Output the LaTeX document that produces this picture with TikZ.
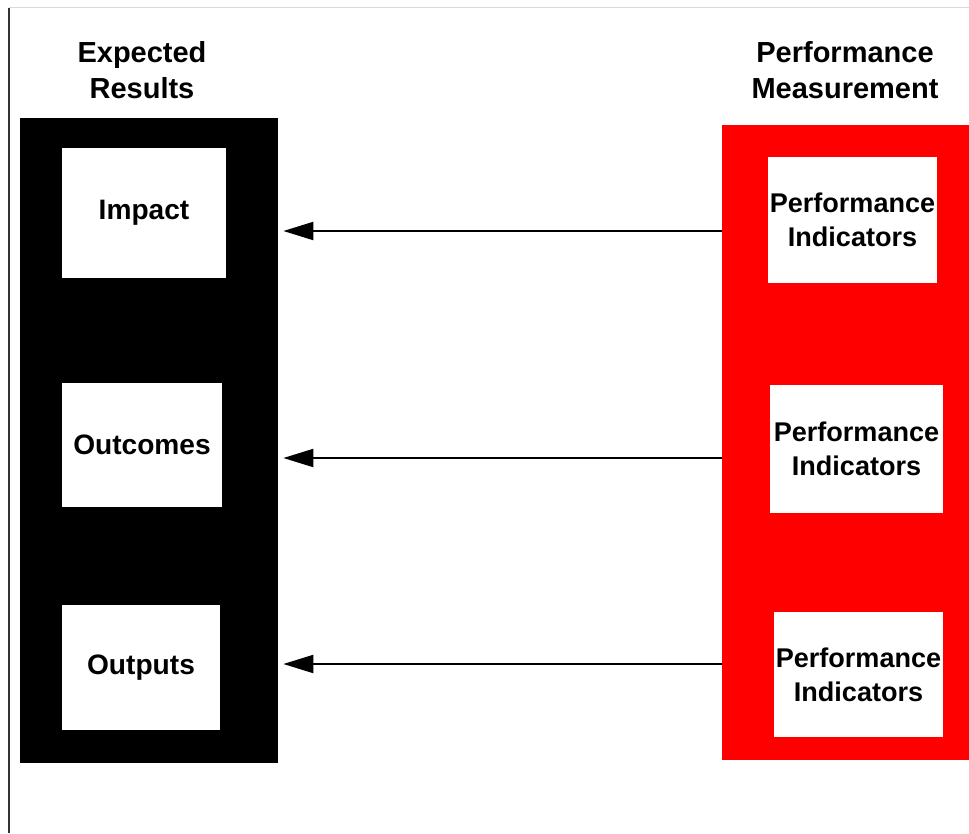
\documentclass[tikz,border=0pt]{standalone}
\usepackage{fontspec}
\setmainfont{Liberation Sans}
\usetikzlibrary{arrows.meta}
\tikzset{
	panel/.style={draw=none, inner sep=0pt},
	level/.style={fill=white, inner sep=0pt, align=center, font=\fontsize{16}{20.5}\selectfont\bfseries},
	indicator/.style={level, font=\fontsize{15.4}{19.5}\selectfont\bfseries},
	title/.style={align=center, font=\fontsize{16.5}{20.5}\selectfont\bfseries},
	link/.style={line width=0.04cm, -{Triangle[length=6mm, width=3.6mm]}, shorten >=0.1cm}
}

\begin{document}
\begin{tikzpicture}
			%%%%% START %%%%%
			\useasboundingbox (0, 0) rectangle (19.38, -16.66);
			
			\draw[color=black!15, line width=0.02cm] (0.18, -0.16) -- (19.38, -0.16);
			\draw[color=black!80, line width=0.04cm] (0.18, -0.16) -- (0.18, -16.66);
			
			\node[title] (exp) at (2.84, -1.4) {Expected\\Results};
			\node[title] (meas) at (16.9, -1.4) {Performance\\Measurement};
			
			\node[panel, fill=black, minimum width=5.16cm, minimum height=12.9cm] (results) at (2.98, -8.81) {};
			\node[panel, fill=red, minimum width=4.94cm, minimum height=12.7cm] (measure) at (16.91, -8.85) {};
			
			\node[level, minimum width=3.28cm, minimum height=2.6cm] (impact) at (2.88, -4.26) {Impact};
			\node[level, minimum width=3.2cm, minimum height=2.48cm] (outcomes) at (2.84, -8.9) {Outcomes};
			\node[level, minimum width=3.16cm, minimum height=2.5cm] (outputs) at (2.82, -13.35) {Outputs};
			
			\node[indicator, minimum width=3.38cm, minimum height=2.52cm] (ind1) at (17.05, -4.4) {Performance\\Indicators};
			\node[indicator, minimum width=3.46cm, minimum height=2.56cm] (ind2) at (17.13, -8.98) {Performance\\Indicators};
			\node[indicator, minimum width=3.38cm, minimum height=2.5cm] (ind3) at (17.17, -13.49) {Performance\\Indicators};
			
			\coordinate (s1) at (14.44, -4.62);
			\coordinate (s2) at (14.44, -9.16);
			\coordinate (s3) at (14.44, -13.28);
			
			\draw[link] (s1) -- (s1 -| results.east);
			\draw[link] (s2) -- (s2 -| results.east);
			\draw[link] (s3) -- (s3 -| results.east);
			
			%%%%% END %%%%%
\end{tikzpicture}
\end{document}
